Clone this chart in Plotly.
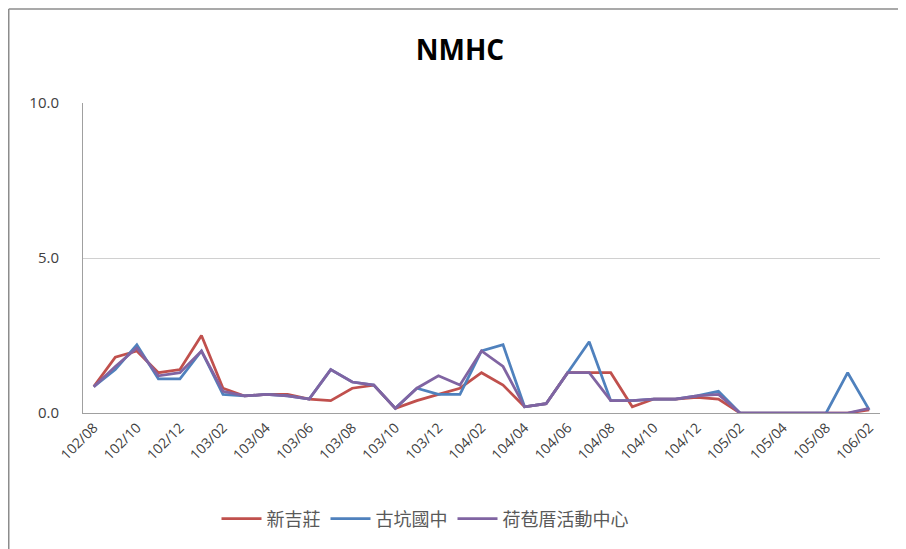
import plotly.graph_objects as go

categories = (
    ["102/08", "102/09", "102/10", "102/11", "102/12"]
    + [f"103/{m:02d}" for m in range(1, 13)]
    + [f"104/{m:02d}" for m in range(1, 13)]
    + ["105/01", "105/02", "105/03", "105/04", "105/06", "105/08", "105/11", "106/02"]
)
tick_labels = categories[::2]

xinjizhuang = [0.85, 1.8, 2.0, 1.3, 1.4, 2.5, 0.8, 0.55, 0.6, 0.6, 0.45, 0.4, 0.8, 0.9, 0.15,
               0.4, 0.6, 0.8, 1.3, 0.9, 0.2, 0.3, 1.3, 1.3, 1.3, 0.2, 0.45, 0.45, 0.5, 0.45,
               0.0, 0.0, 0.0, 0.0, 0.0, 0.0, 0.1]
gukeng = [0.85, 1.4, 2.2, 1.1, 1.1, 2.0, 0.6, 0.55, 0.6, 0.55, 0.45, 1.4, 1.0, 0.9, 0.15,
          0.8, 0.6, 0.6, 2.0, 2.2, 0.2, 0.3, 1.3, 2.3, 0.4, 0.4, 0.45, 0.45, 0.55, 0.7,
          0.0, 0.0, 0.0, 0.0, 0.0, 1.3, 0.1]
hebaocuo = [0.85, 1.5, 2.1, 1.2, 1.3, 2.0, 0.7, 0.55, 0.6, 0.55, 0.45, 1.4, 1.0, 0.9, 0.15,
            0.8, 1.2, 0.9, 2.0, 1.5, 0.2, 0.3, 1.3, 1.3, 0.4, 0.4, 0.45, 0.45, 0.55, 0.6,
            0.0, 0.0, 0.0, 0.0, 0.0, 0.0, 0.15]

series = [
    ("新吉莊", xinjizhuang, "#C0504D"),
    ("古坑國中", gukeng, "#4F81BD"),
    ("荷苞厝活動中心", hebaocuo, "#8064A2"),
]

fig = go.Figure()
for name, vals, color in series:
    fig.add_trace(go.Scatter(x=categories, y=vals, name=name, mode="lines",
                             line=dict(color=color, width=2.75)))

# page body has an 8px margin, so the figure is drawn 8px shifted
W, H = 898, 541
ml, mr, mt, mb = 75, 26, 95, 136
pw, ph = W - ml - mr, H - mt - mb

fig.update_layout(
    width=W, height=H,
    margin=dict(l=ml, r=mr, t=mt, b=mb),
    paper_bgcolor="white", plot_bgcolor="white",
    font=dict(family="Open Sans, Noto Sans CJK TC", color="#404040"),
    title=dict(text="<b>NMHC</b>", x=452 / W, xref="container", xanchor="center",
               y=1 - 42 / H, yref="container", yanchor="middle",
               font=dict(family="Open Sans", size=28, color="#000000")),
    showlegend=True,
    legend=dict(orientation="h", x=(417 - ml) / pw, xanchor="center",
                y=-(511 - (H - mb)) / ph, yanchor="middle",
                font=dict(family="Noto Sans CJK TC", size=18, color="#595959"),
                itemwidth=40, tracegroupgap=0),
    xaxis=dict(type="category", categoryorder="array", categoryarray=categories,
               range=[-0.5, len(categories) - 0.5],
               tickmode="array", tickvals=tick_labels, ticktext=tick_labels,
               tickangle=-45, tickfont=dict(size=14, color="#404040"),
               showgrid=False, showline=True, linecolor="#A0A0A0", linewidth=1,
               ticks="", zeroline=False),
    yaxis=dict(range=[0, 10], tickvals=[0, 5, 10], ticktext=["0.0", "5.0", "10.0"],
               showgrid=True, gridcolor="#D0D0D0", gridwidth=1,
               showline=True, linecolor="#A0A0A0", linewidth=1,
               ticks="", ticklabelstandoff=20, zeroline=False,
               tickfont=dict(size=15, color="#404040")),
)

# chart-area border (left and top edges visible)
x_left = (0.75 - ml) / pw
y_top = 1 + (mt - 1) / ph
fig.add_shape(type="line", xref="paper", yref="paper", x0=x_left, x1=x_left,
              y0=-(mb + 10) / ph, y1=y_top, line=dict(color="#8C8C8C", width=1.5))
fig.add_shape(type="line", xref="paper", yref="paper", x0=x_left, x1=1 + (mr + 10) / pw,
              y0=y_top, y1=y_top, line=dict(color="#8C8C8C", width=1.5))

fig.write_html("out.html")
